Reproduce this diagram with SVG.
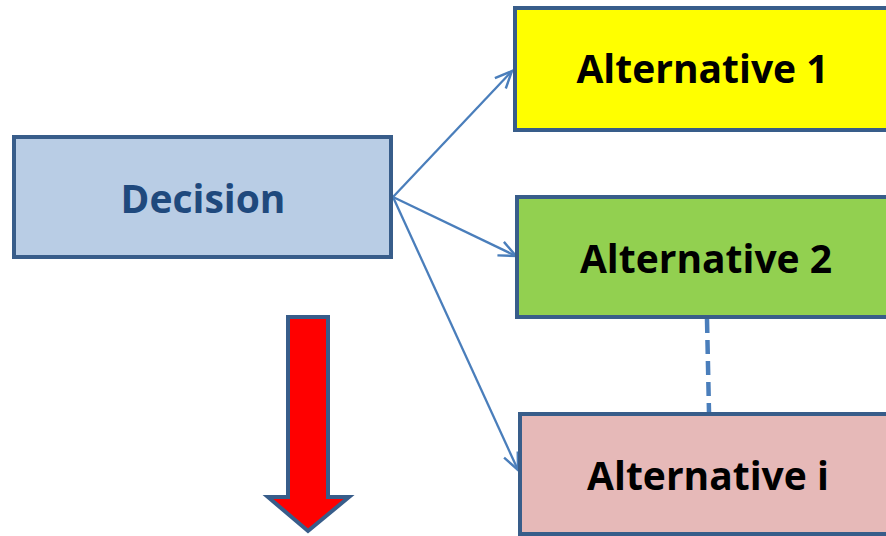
<svg xmlns="http://www.w3.org/2000/svg" width="886" height="536" viewBox="0 0 886 536">
<style>
.box{stroke:#385d8a;stroke-width:4}
.lbl{font-family:"Open Sans","Liberation Sans",sans-serif;font-weight:bold;font-size:39px;text-anchor:middle}
.conn{stroke:#4a7ebb;stroke-width:2.3;fill:none}
</style>
<defs>
<marker id="open" markerUnits="userSpaceOnUse" markerWidth="24" markerHeight="24" refX="0" refY="0" viewBox="-20 -10 24 20" orient="auto" overflow="visible">
<path d="M-17,-7.5 L0,0 L-17,7.5" fill="none" stroke="#4a7ebb" stroke-width="2.4"/>
</marker>
</defs>
<rect width="886" height="536" fill="#ffffff"/>
<g id="connectors">
<line class="conn" x1="393" y1="197" x2="512" y2="71" marker-end="url(#open)"/>
<line class="conn" x1="393" y1="197" x2="516" y2="256" marker-end="url(#open)"/>
<line class="conn" x1="393" y1="197" x2="518" y2="470" marker-end="url(#open)"/>
<line x1="707" y1="319" x2="709" y2="412" stroke="#4a7ebb" stroke-width="4.5" stroke-dasharray="14 7"/>
</g>
<g id="decision">
<rect class="box" x="14" y="137" width="377" height="120" fill="#b9cde5"/>
<text class="lbl" x="203" y="213" fill="#1f497d">Decision</text>
</g>
<g id="alt1">
<rect class="box" x="515" y="8" width="380" height="122" fill="#ffff00"/>
<text class="lbl" x="702.5" y="83" fill="#000000">Alternative 1</text>
</g>
<g id="alt2">
<rect class="box" x="517" y="197" width="380" height="120" fill="#92d050"/>
<text class="lbl" x="706" y="273" fill="#000000">Alternative 2</text>
</g>
<g id="alti">
<rect class="box" x="520" y="414" width="380" height="120" fill="#e6b9b8"/>
<text class="lbl" x="708" y="490" fill="#000000">Alternative i</text>
</g>
<g id="down-arrow">
<path d="M288,317 L328,317 L328,497 L349,497 L308,531 L268,497 L288,497 Z" fill="#ff0000" stroke="#385d8a" stroke-width="4" stroke-linejoin="miter"/>
</g>
</svg>
